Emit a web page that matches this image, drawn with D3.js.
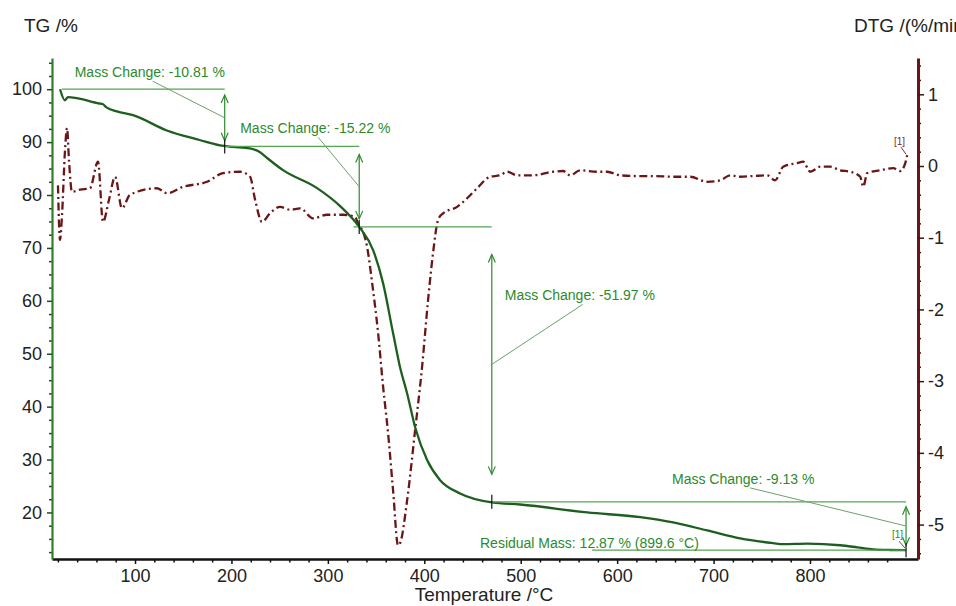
<!DOCTYPE html>
<html><head><meta charset="utf-8">
<script src="https://cdn.jsdelivr.net/npm/d3@7"></script>
<style>
body{margin:0;background:#fff;overflow:hidden}
svg{display:block}
text{font-family:"Liberation Sans",Arial,sans-serif}
</style>
</head><body>
<svg id="c" width="956" height="606"></svg>
<script>
// ---------- DATA ----------
const tgT = [22.2, 27.4, 30.5, 39.8, 63, 66.5, 70, 81.3, 97.9, 133, 167, 188, 201.7, 219, 229.7, 237, 253.5, 288.8, 312.7, 332.4, 346.9, 357.3, 367.6, 374.9, 382.2, 390.5, 402.9, 416.4, 437.1, 470.3, 499.4, 568.9, 623.9, 658.1, 693.4, 727.6, 761.8, 772.2, 797.1, 831.3, 849, 865.6, 883.2, 899.6];
const tgV = [100, 97.9, 98.5, 98.3, 97.3, 97.2, 96.6, 95.8, 95.1, 92.2, 90.4, 89.4, 89.1, 88.8, 88.1, 87.0, 84.7, 81.3, 77.9, 74.0, 69.6, 63.3, 53.9, 47.4, 42.5, 36.1, 29.9, 26.1, 23.6, 21.9, 21.5, 20.0, 19.1, 18.1, 16.6, 15.1, 14.2, 14.0, 14.1, 13.8, 13.4, 13.0, 12.9, 12.87];

const dtgT = [20.1, 22.2, 24.3, 27.4, 29.5, 31.5, 34.6, 42.9, 53.3, 61.6, 66.8, 73.0, 79.3, 86.5, 94.8, 122.8, 133.2, 149.8, 174.7, 191.3, 208.9, 219.3, 224.5, 231.7, 240.0, 250.4, 260.8, 271.2, 284.6, 299.2, 315.8, 328.2, 332.4, 335.5, 340.7, 345.9, 352.1, 357.3, 362.4, 367.6, 372.8, 374.9, 382.2, 390.5, 397.7, 403.9, 409.1, 414.3, 419.5, 434.0, 444.4, 454.8, 468.3, 478.6, 485.9, 496.3, 512.9, 533.6, 544.0, 551.2, 561.6, 579.3, 589.6, 603.1, 620.7, 637.3, 658.1, 675.7, 693.4, 706.8, 717.2, 727.6, 741.1, 755.6, 763.9, 772.2, 786.7, 792.9, 800.2, 810.6, 821.0, 831.3, 841.7, 852.1, 855.2, 859.3, 872.8, 886.3, 893.6, 898.8, 900.8];
const dtgV = [-0.27, -1.03, -0.68, 0.22, 0.53, 0.08, -0.36, -0.33, -0.31, 0.06, -0.78, -0.47, -0.15, -0.59, -0.40, -0.31, -0.38, -0.29, -0.22, -0.10, -0.08, -0.15, -0.47, -0.78, -0.66, -0.57, -0.61, -0.59, -0.73, -0.68, -0.68, -0.71, -0.84, -0.89, -1.13, -1.63, -2.33, -3.08, -3.72, -4.52, -5.29, -5.26, -4.66, -3.68, -2.80, -1.87, -1.21, -0.75, -0.66, -0.57, -0.45, -0.31, -0.15, -0.13, -0.08, -0.13, -0.13, -0.08, -0.07, -0.13, -0.06, -0.08, -0.08, -0.13, -0.14, -0.14, -0.15, -0.15, -0.22, -0.20, -0.13, -0.15, -0.14, -0.13, -0.20, -0.01, 0.04, 0.06, -0.08, -0.01, -0.01, -0.06, -0.08, -0.15, -0.29, -0.10, -0.06, -0.03, -0.07, 0.04, 0.15];

const xTicks = [100, 200, 300, 400, 500, 600, 700, 800];
const tgTicks = [20, 30, 40, 50, 60, 70, 80, 90, 100];
const dtgTicks = [-5, -4, -3, -2, -1, 0, 1];

const stepT = [193, 332.5, 470, 899.6];
const stepLevels = [100, 89.19, 73.97, 22.00, 12.87];
const massChanges = ["-10.81", "-15.22", "-51.97", "-9.13"];
const residualMass = "12.87";
const residualTemp = "899.6";

// ---------- LAYOUT ----------
const svg = d3.select("#c");
const L = 52, R = 918, T0 = 58, B = 559;
const x = d3.scaleLinear().domain([13.9, 912]).range([L, R]);
const yL = d3.scaleLinear().domain([11.2, 105.9]).range([B, T0]);
const yR = d3.scaleLinear().domain([-5.48, 1.506]).range([B, T0]);

const green = "#2c8a2c", lineGreen = "#55a555", tgColor = "#1e5e1e", dtgColor = "#6a1616", axisGreen = "#2f7f2f";
const plain = d => String(d);

function styleAxis(g, col, w, tcol, fs){
  g.select(".domain").attr("stroke", col).attr("stroke-width", w);
  g.selectAll(".tick line").attr("stroke", tcol).attr("stroke-width", 1.5);
  g.selectAll(".tick text").attr("fill", "#222").style("font-size", fs + "px").attr("font-family", '"Liberation Sans",Arial,sans-serif');
}
const minorX = d3.range(20, 901, 20).filter(v => v % 100 !== 0);
const minorL = d3.range(12.5, 105.1, 2.5).filter(v => v % 10 !== 0);
const minorR = d3.range(-5.4, 1.45, 0.2).map(v => +v.toFixed(1)).filter(v => Math.abs(v - Math.round(v)) > 0.01);

// minor ticks
svg.append("g").attr("transform", `translate(0,${B})`)
  .call(d3.axisBottom(x).tickValues(minorX).tickSize(3.5).tickFormat("").tickSizeOuter(0))
  .call(g => { g.select(".domain").remove(); g.selectAll("line").attr("stroke", "#111").attr("stroke-width", 1.5); });
svg.append("g").attr("transform", `translate(${L},0)`)
  .call(d3.axisLeft(yL).tickValues(minorL).tickSize(3).tickFormat("").tickSizeOuter(0))
  .call(g => { g.select(".domain").remove(); g.selectAll("line").attr("stroke", "#1e4e1e").attr("stroke-width", 1.5); });
svg.append("g").attr("transform", `translate(${R},0)`)
  .call(d3.axisRight(yR).tickValues(minorR).tickSize(3).tickFormat("").tickSizeOuter(0))
  .call(g => { g.select(".domain").remove(); g.selectAll("line").attr("stroke", "#4a1010").attr("stroke-width", 1.5); });

// major axes
svg.append("g").attr("transform", `translate(0,${B})`)
  .call(d3.axisBottom(x).tickValues(xTicks).tickSize(5).tickPadding(5).tickSizeOuter(0).tickFormat(plain))
  .call(g => styleAxis(g, "#111", 2.5, "#111", 18));
svg.append("g").attr("transform", `translate(${L},0)`)
  .call(d3.axisLeft(yL).tickValues(tgTicks).tickSize(5).tickPadding(5).tickSizeOuter(0).tickFormat(plain))
  .call(g => styleAxis(g, axisGreen, 2.2, "#1e4e1e", 18));
svg.append("g").attr("transform", `translate(${R},0)`)
  .call(d3.axisRight(yR).tickValues(dtgTicks).tickSize(6).tickPadding(4).tickSizeOuter(0).tickFormat(plain))
  .call(g => styleAxis(g, dtgColor, 3, "#4a1010", 18));

// axis titles
svg.append("text").attr("x", 24).attr("y", 32).attr("fill", "#222").style("font-size", "19px").text("TG /%");
svg.append("text").attr("x", 854).attr("y", 32).attr("fill", "#222").style("font-size", "19px").text("DTG /(%/min)");
svg.append("text").attr("x", 484).attr("y", 601).attr("text-anchor", "middle").attr("fill", "#222").style("font-size", "19px").text("Temperature /°C");

// curves
const dtgLine = d3.line().x((d, i) => x(dtgT[i])).y(d => yR(d)).curve(d3.curveMonotoneX);
svg.append("path").attr("d", dtgLine(dtgV)).attr("fill", "none").attr("stroke", dtgColor)
  .attr("stroke-width", 2.3).attr("stroke-dasharray", "8,3.5,2,3.5");

const tgLine = d3.line().x((d, i) => x(tgT[i])).y(d => yL(d)).curve(d3.curveMonotoneX);
svg.append("path").attr("d", tgLine(tgV)).attr("fill", "none").attr("stroke", tgColor).attr("stroke-width", 2.3);

// ---------- ANNOTATIONS ----------
const ann = svg.append("g");
function hline(t1, t2, lev){
  ann.append("line").attr("x1", x(t1)).attr("x2", x(t2)).attr("y1", yL(lev)).attr("y2", yL(lev))
    .attr("stroke", lineGreen).attr("stroke-width", 1.2);
}
hline(24, stepT[0], stepLevels[0]);
hline(stepT[0], stepT[1], stepLevels[1]);
hline(stepT[1] - 6, stepT[2], stepLevels[2]);
hline(stepT[2], stepT[3], stepLevels[3]);
hline(574, stepT[3], stepLevels[4]);

function arrowHead(px, py, dir){ // dir -1 up, +1 down
  ann.append("path").attr("d", `M${px-3.5},${py - dir*8} L${px},${py} L${px+3.5},${py - dir*8}`)
    .attr("fill", "none").attr("stroke", green).attr("stroke-width", 1.2);
}
const labelDx = [-150, -119, 13, -234];
const labelDy = [-12, -13, 0, -18];
stepT.forEach((t, i) => {
  const ax = x(t), y1 = yL(stepLevels[i]), y2 = yL(stepLevels[i + 1]);
  const h = y2 - y1, a1 = y1 + h * 0.1, a2 = y2 - h * 0.1;
  ann.append("line").attr("x1", ax).attr("x2", ax).attr("y1", a1).attr("y2", a2).attr("stroke", green).attr("stroke-width", 1.2);
  arrowHead(ax, a1, -1); arrowHead(ax, a2, 1);
  ann.append("line").attr("x1", ax).attr("x2", ax).attr("y1", y2 - 7).attr("y2", y2 + 7).attr("stroke", "#111").attr("stroke-width", 1.2);
  const tx = ax + labelDx[i];
  const ty = i === 2 ? (y1 + y2) / 2 - 64 : y1 + labelDy[i];
  ann.append("text").attr("x", tx).attr("y", ty).attr("fill", green).style("font-size", "14px")
    .text(`Mass Change: ${massChanges[i]} %`);
  ann.append("line").attr("x1", tx + 78).attr("y1", ty + 4).attr("x2", ax).attr("y2", (y1 + y2) / 2)
    .attr("stroke", "#6f9f6f").attr("stroke-width", 1);
});
ann.append("text").attr("x", 480).attr("y", yL(stepLevels[4]) - 2).attr("fill", green).style("font-size", "14px")
  .text(`Residual Mass: ${residualMass} % (${residualTemp} °C)`);

// [1] markers
const endX = x(stepT[3]);
ann.append("text").attr("x", endX - 14).attr("y", yL(stepLevels[4]) - 12).attr("fill", green).style("font-size", "10px").text("[1]");
ann.append("line").attr("x1", endX - 7).attr("y1", yL(stepLevels[4]) - 9).attr("x2", endX - 1).attr("y2", yL(stepLevels[4]) - 2)
  .attr("stroke", "#555").attr("stroke-width", 1);
const dEndY = yR(dtgV[dtgV.length - 1]);
ann.append("text").attr("x", endX - 12).attr("y", dEndY - 10).attr("fill", "#7a3030").style("font-size", "10px").text("[1]");
ann.append("line").attr("x1", endX - 5).attr("y1", dEndY - 8).attr("x2", endX).attr("y2", dEndY - 1)
  .attr("stroke", "#7a3030").attr("stroke-width", 1);
</script>
</body></html>
